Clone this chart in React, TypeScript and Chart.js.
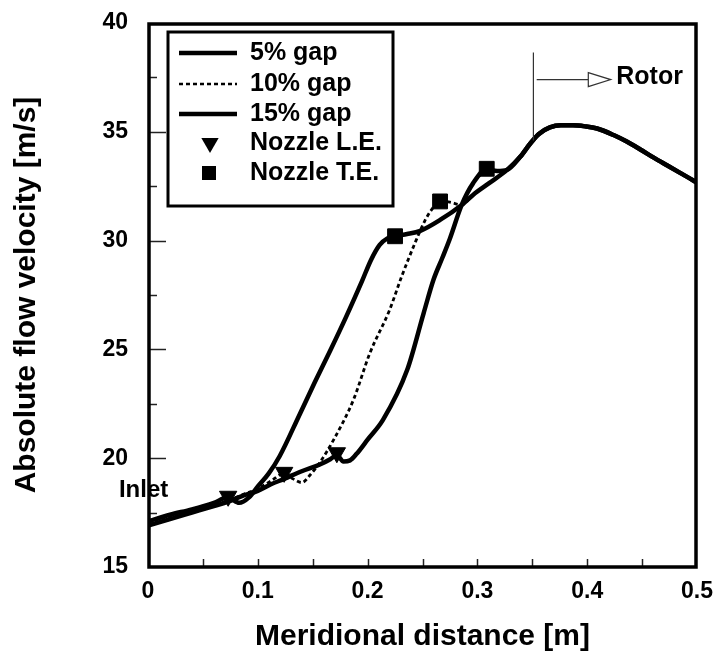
import React, { useEffect, useRef } from 'react';
import { Chart, registerables } from 'chart.js';

Chart.register(...registerables);

// ---- data ----
const X_GAP15 = [0, 0.02, 0.04, 0.06, 0.073, 0.083, 0.092, 0.1, 0.11, 0.12, 0.138, 0.152, 0.166, 0.18, 0.195, 0.203, 0.211, 0.218, 0.225, 0.236, 0.248, 0.266, 0.2857];
const Y_GAP15 = [17.1, 17.4, 17.65, 17.95, 18.2, 17.95, 18.2, 18.7, 19.3, 20.1, 22.0, 23.5, 24.95, 26.45, 28.15, 29.1, 29.8, 30.1, 30.21, 30.3, 30.45, 30.95, 31.64];

const X_GAP10 = [0, 0.02, 0.04, 0.06, 0.073, 0.085, 0.1, 0.112, 0.124, 0.132, 0.14, 0.148, 0.157, 0.169, 0.187, 0.202, 0.22, 0.231, 0.243, 0.252, 0.258, 0.266, 0.276, 0.2857];
const Y_GAP10 = [17.0, 17.3, 17.6, 17.85, 18.05, 18.3, 18.6, 18.95, 19.3, 19.05, 18.88, 19.25, 19.84, 20.84, 22.67, 24.82, 26.81, 28.35, 29.87, 30.9, 31.4, 31.83, 31.75, 31.64];

const X_GAP5 = [0, 0.02, 0.04, 0.06, 0.073, 0.085, 0.1, 0.112, 0.124, 0.14, 0.156, 0.166, 0.172, 0.178, 0.184, 0.19, 0.2, 0.214, 0.236, 0.251, 0.26, 0.268, 0.275, 0.2857, 0.296, 0.3085, 0.318, 0.327];
const Y_GAP5 = [16.9, 17.2, 17.5, 17.8, 18.0, 18.25, 18.5, 18.8, 19.05, 19.4, 19.7, 19.95, 20.15, 19.85, 19.9, 20.2, 20.85, 21.76, 24.05, 26.66, 28.2, 29.2, 30.1, 31.64, 32.63, 33.28, 33.2, 33.25];

// common downstream part shared by the three gaps
const X_COMMON = [0.296, 0.311, 0.327, 0.339, 0.348, 0.356, 0.366, 0.376, 0.387, 0.398, 0.409, 0.424, 0.436, 0.448, 0.461, 0.473, 0.485, 0.497, 0.5];
const Y_COMMON = [32.1, 32.65, 33.25, 33.85, 34.45, 34.9, 35.2, 35.3, 35.3, 35.25, 35.15, 34.85, 34.55, 34.2, 33.8, 33.45, 33.1, 32.75, 32.65];

const LE_X = [0.073, 0.124, 0.172];
const LE_Y = [18.25, 19.35, 20.25];
const TE_X = [0.225, 0.266, 0.3085];
const TE_Y = [30.2, 31.8, 33.3];

const SERIES_LABELS = ['5% gap', '10% gap', '15% gap', 'Nozzle L.E.', 'Nozzle T.E.'];

const X_TICKS = [0, 0.1, 0.2, 0.3, 0.4, 0.5];
const X_TICK_LABELS = ['0', '0.1', '0.2', '0.3', '0.4', '0.5'];
const Y_TICKS = [15, 20, 25, 30, 35, 40];
const Y_TICK_LABELS = ['15', '20', '25', '30', '35', '40'];
const X_TICK_MARKS = [0.05, 0.1, 0.15, 0.2, 0.25, 0.3, 0.35, 0.4, 0.45];
const Y_TICK_MARKS = [17.5, 20, 22.5, 25, 27.5, 30, 32.5, 35, 37.5];

const X_TITLE = 'Meridional distance [m]';
const Y_TITLE = 'Absolute flow velocity [m/s]';

// annotations
const ROTOR_X = 0.351;
const ROTOR_Y_BOTTOM = 34.6;
const ROTOR_Y_TOP = 38.65;
const ROTOR_ARROW_Y = 37.4;
const ROTOR_ARROW_START = 0.354;
const ROTOR_ARROW_BASE = 0.401;
const ROTOR_ARROW_TIP = 0.4214;
const ROTOR_LABEL_X = 0.4265;
const ROTOR_LABEL = 'Rotor';
const INLET_X = -0.004;
const INLET_Y = 18.5;
const INLET_LABEL = 'Inlet';

const FONT = '"Liberation Sans", Arial, Helvetica, sans-serif';

const pts = (xs: number[], ys: number[]) => xs.map((x, i) => ({ x, y: ys[i] }));

function drawTriangleDown(ctx: CanvasRenderingContext2D, cx: number, cy: number, r: number) {
  ctx.beginPath();
  ctx.moveTo(cx, cy + r);
  ctx.lineTo(cx - r * 0.866, cy - r * 0.5);
  ctx.lineTo(cx + r * 0.866, cy - r * 0.5);
  ctx.closePath();
  ctx.fill();
}

const decorPlugin = {
  id: 'decor',
  afterDraw(chart: any) {
    const { ctx, chartArea: a, scales } = chart;
    const xs = scales.x;
    const ys = scales.y;
    ctx.save();

    // tick marks (inside)
    ctx.strokeStyle = '#222';
    ctx.lineWidth = 1.5;
    Y_TICK_MARKS.forEach((v) => {
      const py = Math.round(ys.getPixelForValue(v)) + 0.5;
      const major = Math.abs(v % 5) < 1e-6;
      ctx.beginPath();
      ctx.moveTo(a.left, py);
      ctx.lineTo(a.left + (major ? 18 : 9), py);
      ctx.stroke();
    });
    X_TICK_MARKS.forEach((v) => {
      const px = Math.round(xs.getPixelForValue(v)) + 0.5;
      ctx.beginPath();
      ctx.moveTo(px, a.bottom);
      ctx.lineTo(px, a.bottom - 8);
      ctx.stroke();
    });

    // frame
    ctx.strokeStyle = '#000';
    ctx.lineWidth = 3.5;
    ctx.strokeRect(a.left + 1, a.top + 1, a.right - a.left - 2, a.bottom - a.top - 1);

    // rotor marker
    const rx = xs.getPixelForValue(ROTOR_X);
    ctx.strokeStyle = '#333';
    ctx.lineWidth = 1.2;
    ctx.beginPath();
    ctx.moveTo(rx, ys.getPixelForValue(ROTOR_Y_TOP));
    ctx.lineTo(rx, ys.getPixelForValue(ROTOR_Y_BOTTOM));
    ctx.stroke();
    const ay = ys.getPixelForValue(ROTOR_ARROW_Y);
    const ab = xs.getPixelForValue(ROTOR_ARROW_BASE);
    const at = xs.getPixelForValue(ROTOR_ARROW_TIP);
    ctx.beginPath();
    ctx.moveTo(xs.getPixelForValue(ROTOR_ARROW_START), ay);
    ctx.lineTo(ab, ay);
    ctx.stroke();
    ctx.beginPath();
    ctx.moveTo(ab, ay - 7);
    ctx.lineTo(at, ay);
    ctx.lineTo(ab, ay + 7);
    ctx.closePath();
    ctx.fillStyle = '#fff';
    ctx.fill();
    ctx.stroke();
    ctx.fillStyle = '#000';
    ctx.font = `bold 25px ${FONT}`;
    ctx.textAlign = 'left';
    ctx.textBaseline = 'middle';
    ctx.fillText(ROTOR_LABEL, xs.getPixelForValue(ROTOR_LABEL_X), ay - 2);

    // inlet label
    ctx.font = `bold 24px ${FONT}`;
    ctx.textAlign = 'center';
    ctx.fillText(INLET_LABEL, xs.getPixelForValue(INLET_X), ys.getPixelForValue(INLET_Y));

    // legend
    const L = { left: a.left + 20, top: a.top + 9, right: a.left + 245, bottom: a.top + 183 };
    ctx.fillStyle = '#fff';
    ctx.fillRect(L.left, L.top, L.right - L.left, L.bottom - L.top);
    ctx.strokeStyle = '#000';
    ctx.lineWidth = 3;
    ctx.strokeRect(L.left, L.top, L.right - L.left, L.bottom - L.top);
    const rows = [30, 61, 91, 120, 150].map((d) => a.top + d);
    const sx0 = a.left + 31;
    const sx1 = a.left + 89;
    const tx = a.left + 102;
    ctx.fillStyle = '#000';
    rows.forEach((ry, i) => {
      if (i < 3) {
        ctx.beginPath();
        ctx.lineWidth = i === 1 ? 2.5 : 4.5;
        ctx.setLineDash(i === 1 ? [4, 3] : []);
        ctx.moveTo(sx0, ry);
        ctx.lineTo(sx1, ry);
        ctx.stroke();
        ctx.setLineDash([]);
      } else if (i === 3) {
        drawTriangleDown(ctx, a.left + 62, ry, 10);
      } else {
        ctx.fillRect(a.left + 54, ry - 7, 14, 14);
      }
      ctx.font = `bold 25px ${FONT}`;
      ctx.textAlign = 'left';
      ctx.textBaseline = 'middle';
      ctx.fillText(SERIES_LABELS[i], tx, ry);
    });

    ctx.restore();
  },
};

export default function App() {
  const ref = useRef<HTMLCanvasElement | null>(null);

  useEffect(() => {
    if (!ref.current) return;
    const lineBase = {
      showLine: true,
      pointRadius: 0,
      borderColor: '#000',
      backgroundColor: '#000',
      cubicInterpolationMode: 'monotone' as const,
      order: 2,
    };
    const chart = new Chart(ref.current, {
      type: 'scatter',
      data: {
        datasets: [
          { ...lineBase, label: SERIES_LABELS[0], data: pts(X_GAP5.concat(X_COMMON.slice(3)), Y_GAP5.concat(Y_COMMON.slice(3))), borderWidth: 4.5 },
          { ...lineBase, label: SERIES_LABELS[1], data: pts(X_GAP10.concat(X_COMMON), Y_GAP10.concat(Y_COMMON)), borderWidth: 2.8, borderDash: [4, 3] },
          { ...lineBase, label: SERIES_LABELS[2], data: pts(X_GAP15.concat(X_COMMON), Y_GAP15.concat(Y_COMMON)), borderWidth: 4.5 },
          {
            label: SERIES_LABELS[3], data: pts(LE_X, LE_Y), showLine: false,
            pointStyle: 'triangle', rotation: 180, pointRadius: 10,
            backgroundColor: '#000', borderColor: '#000', borderWidth: 1, order: 0,
          },
          {
            label: SERIES_LABELS[4], data: pts(TE_X, TE_Y), showLine: false,
            pointStyle: 'rect', pointRadius: 10.5,
            backgroundColor: '#000', borderColor: '#000', borderWidth: 1, order: 0,
          },
        ],
      },
      options: {
        responsive: false,
        animation: false,
        events: [],
        layout: { padding: { top: 23, right: 19, left: 0, bottom: 0 } },
        plugins: { legend: { display: false }, tooltip: { enabled: false } },
        scales: {
          x: {
            type: 'linear',
            min: 0,
            max: 0.5,
            grid: { display: false, drawTicks: false },
            border: { display: false },
            afterBuildTicks: (s: any) => { s.ticks = X_TICKS.map((value) => ({ value })); },
            afterFit: (s: any) => { s.height = 93; s.paddingLeft = 0; s.paddingRight = 0; s.paddingTop = 0; s.paddingBottom = 0; },
            ticks: {
              padding: 11,
              color: '#000',
              font: { family: FONT, size: 23, weight: 'bold' },
              maxRotation: 0,
              callback: (_v: any, i: number) => X_TICK_LABELS[i],
            },
            title: {
              display: true,
              text: X_TITLE,
              color: '#000',
              font: { family: FONT, size: 30, weight: 'bold' },
              padding: { top: 0, bottom: 5 },
            },
          },
          y: {
            type: 'linear',
            min: 15,
            max: 40,
            grid: { display: false, drawTicks: false },
            border: { display: false },
            afterBuildTicks: (s: any) => { s.ticks = Y_TICKS.map((value) => ({ value })); },
            afterFit: (s: any) => { s.width = 148; s.paddingLeft = 0; s.paddingRight = 0; s.paddingTop = 0; s.paddingBottom = 0; },
            ticks: {
              padding: 20,
              color: '#000',
              font: { family: FONT, size: 23, weight: 'bold' },
              callback: (_v: any, i: number) => Y_TICK_LABELS[i],
            },
            title: {
              display: true,
              text: Y_TITLE,
              color: '#000',
              font: { family: FONT, size: 30, weight: 'bold' },
              padding: { top: 9, bottom: 0 },
            },
          },
        },
      },
      plugins: [decorPlugin],
    });
    return () => chart.destroy();
  }, []);

  return (
    <div style={{ position: 'absolute', left: 0, top: 0, width: 716, height: 660, background: '#fff' }}>
      <canvas ref={ref} width={716} height={660} style={{ display: 'block' }} />
    </div>
  );
}
